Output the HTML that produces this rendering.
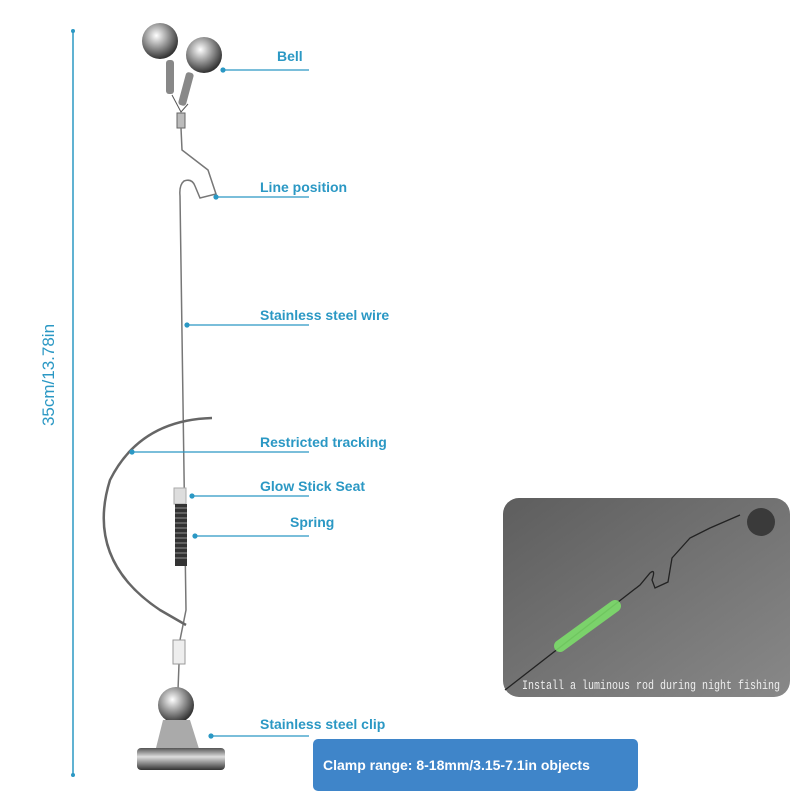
<!DOCTYPE html>
<html><head><meta charset="utf-8"><style>
body{margin:0;width:800px;height:800px;background:#fff;position:relative;overflow:hidden;font-family:"Liberation Sans",sans-serif}
.l{position:absolute;color:#2b98c4;font-weight:bold;font-size:14px;white-space:nowrap}
</style></head><body>
<svg width="800" height="800" style="position:absolute;left:0;top:0">
<defs>
<radialGradient id="m" cx="40%" cy="35%" r="65%"><stop offset="0" stop-color="#fff"/><stop offset=".5" stop-color="#999"/><stop offset="1" stop-color="#333"/></radialGradient>
<linearGradient id="c" x1="0" y1="0" x2="0" y2="1"><stop offset="0" stop-color="#555"/><stop offset=".4" stop-color="#ddd"/><stop offset="1" stop-color="#333"/></linearGradient>
<linearGradient id="bg" x1="0" y1="0" x2="1" y2="1"><stop offset="0" stop-color="#5e5e5e"/><stop offset="1" stop-color="#888"/></linearGradient>
</defs>
<line x1="73" y1="31" x2="73" y2="775" stroke="#2b98c4" stroke-width="1.5"/>
<circle cx="73" cy="31" r="2" fill="#2b98c4"/><circle cx="73" cy="775" r="2" fill="#2b98c4"/>
<text x="0" y="0" transform="translate(54,375) rotate(-90)" text-anchor="middle" font-family="Liberation Sans,sans-serif" font-size="17" fill="#2b98c4">35cm/13.78in</text>
<circle cx="160" cy="41" r="18" fill="url(#m)"/>
<circle cx="204" cy="55" r="18" fill="url(#m)"/>
<rect x="166" y="60" width="8" height="34" rx="3" fill="#888"/>
<rect x="182" y="72" width="8" height="34" rx="3" transform="rotate(15 186 89)" fill="#888"/>
<path d="M172 95 L181 112 L188 104" stroke="#555" fill="none"/>
<rect x="177" y="113" width="8" height="15" fill="#bbb" stroke="#666"/>
<path d="M181 128 L182 150 L208 170 L216 194 L200 198 L195 186 Q192 178 184 181 Q179 185 180 196 L186 610 L180 640 M179 664 L178 690" stroke="#777" stroke-width="1.5" fill="none"/>
<path d="M212 418 Q140 420 110 480 Q85 560 160 610 L186 625" stroke="#666" stroke-width="2.5" fill="none"/>
<rect x="174" y="488" width="12" height="16" fill="#ddd" stroke="#aaa"/>
<rect x="175" y="504" width="12" height="62" fill="#333"/>
<g stroke="#aaa" stroke-width="0.8">
<line x1="175" y1="508" x2="187" y2="508"/><line x1="175" y1="513" x2="187" y2="513"/><line x1="175" y1="518" x2="187" y2="518"/><line x1="175" y1="523" x2="187" y2="523"/><line x1="175" y1="528" x2="187" y2="528"/><line x1="175" y1="533" x2="187" y2="533"/><line x1="175" y1="538" x2="187" y2="538"/><line x1="175" y1="543" x2="187" y2="543"/><line x1="175" y1="548" x2="187" y2="548"/><line x1="175" y1="553" x2="187" y2="553"/><line x1="175" y1="558" x2="187" y2="558"/></g>
<rect x="173" y="640" width="12" height="24" fill="#eee" stroke="#999"/>
<circle cx="176" cy="705" r="18" fill="url(#m)"/>
<path d="M163 720 L190 720 L200 752 L155 752 Z" fill="#aaa"/>
<rect x="137" y="748" width="88" height="22" rx="4" fill="url(#c)"/>
<g stroke="#2b98c4" stroke-width="1.2" fill="#2b98c4">
<line x1="223" y1="70" x2="309" y2="70"/><circle cx="223" cy="70" r="2"/>
<line x1="216" y1="197" x2="309" y2="197"/><circle cx="216" cy="197" r="2"/>
<line x1="187" y1="325" x2="309" y2="325"/><circle cx="187" cy="325" r="2"/>
<line x1="132" y1="452" x2="309" y2="452"/><circle cx="132" cy="452" r="2"/>
<line x1="192" y1="496" x2="309" y2="496"/><circle cx="192" cy="496" r="2"/>
<line x1="195" y1="536" x2="309" y2="536"/><circle cx="195" cy="536" r="2"/>
<line x1="211" y1="736" x2="309" y2="736"/><circle cx="211" cy="736" r="2"/>
</g>
<rect x="503" y="498" width="287" height="199" rx="16" fill="url(#bg)"/>
<path d="M505 690 L640 585 L650 573 Q656 568 652 580 L655 588 L668 582 L672 558 L690 538 L710 528 L740 515" stroke="#222" stroke-width="1.3" fill="none"/>
<line x1="560" y1="646" x2="615" y2="606" stroke="#7de36a" stroke-width="12" stroke-linecap="round" opacity=".85"/>
<circle cx="761" cy="522" r="14" fill="#3a3a3a"/>
<text x="522" y="689" font-family="Liberation Mono,monospace" font-size="13" fill="#eee" textLength="258" lengthAdjust="spacingAndGlyphs">Install a luminous rod during night fishing</text>
</svg>
<div class="l" style="left:277px;top:48px">Bell</div>
<div class="l" style="left:260px;top:179px">Line position</div>
<div class="l" style="left:260px;top:307px">Stainless steel wire</div>
<div class="l" style="left:260px;top:434px">Restricted tracking</div>
<div class="l" style="left:260px;top:478px">Glow Stick Seat</div>
<div class="l" style="left:290px;top:514px">Spring</div>
<div class="l" style="left:260px;top:716px">Stainless steel clip</div>
<div style="position:absolute;left:313px;top:739px;width:325px;height:52px;background:#3f85c9;border-radius:5px;color:#fff;font-weight:bold;font-size:14px;line-height:52px;padding-left:10px;box-sizing:border-box">Clamp range: 8-18mm/3.15-7.1in objects</div>
</body></html>
